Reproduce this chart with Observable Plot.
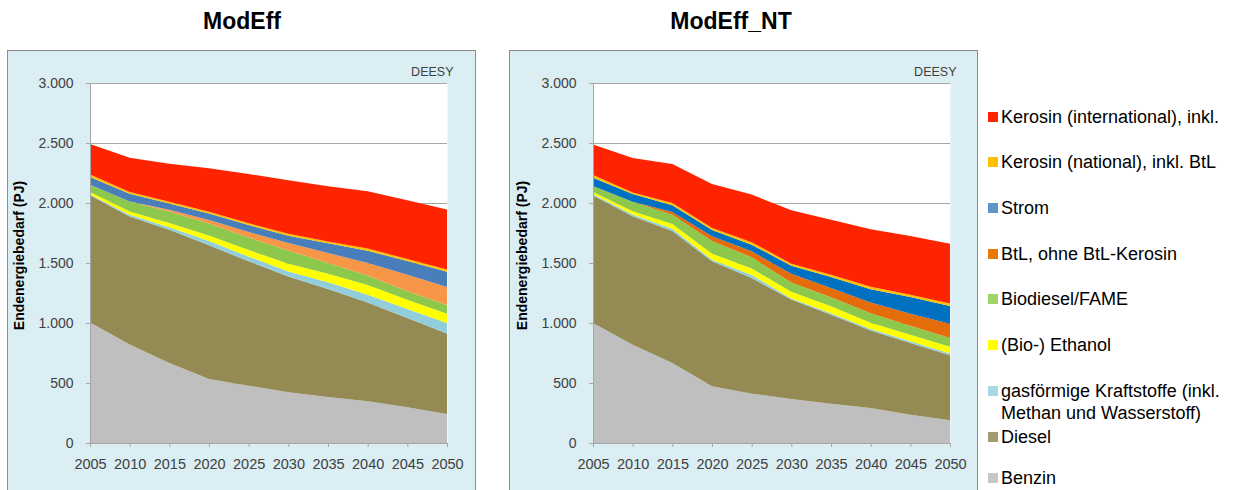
<!DOCTYPE html>
<html>
<head>
<meta charset="utf-8">
<script src="https://cdn.jsdelivr.net/npm/d3@7"></script>
<script src="https://cdn.jsdelivr.net/npm/@observablehq/plot@0.6"></script>
<style>
  html, body { margin: 0; padding: 0; background: #fff; }
  #page { position: relative; width: 1236px; height: 490px; overflow: hidden; font-family: Arial, "Liberation Sans", sans-serif; }
  .title { position: absolute; top: 8px; font-weight: bold; font-size: 23px; color: #000; text-align: center; width: 300px; }
  .panel { position: absolute; top: 50px; }
  .panel svg { display: block; border: 1px solid #8c8c8c; }
  #legend { position: absolute; left: 988px; top: 0; font-size: 18px; color: #000; }
  .item { position: absolute; left: 0; white-space: nowrap; line-height: 22px; }
  .sw { position: absolute; left: 0; top: 6px; width: 10px; height: 10px; }
  .lbl { position: absolute; left: 13px; top: 0; }
</style>
</head>
<body>
<div id="page">
  <div class="title" style="left:92px;">ModEff</div>
  <div class="title" style="left:581px;">ModEff_NT</div>
  <div class="panel" id="left" style="left:7px;"></div>
  <div class="panel" id="right" style="left:509px;"></div>
  <div id="legend"></div>
</div>
<script>
// ---- data (PJ) ----
const years = [2005, 2010, 2015, 2020, 2025, 2030, 2035, 2040, 2045, 2050];
const seriesNames = ["Benzin", "Diesel", "gasförmige Kraftstoffe", "(Bio-) Ethanol", "Biodiesel/FAME",
  "BtL, ohne BtL-Kerosin", "Strom", "Kerosin (national), inkl. BtL", "Kerosin (international), inkl."];
const yTicks = [0, 500, 1000, 1500, 2000, 2500, 3000];

// Scenario ModEff
const benzinA    = [1005, 820, 667, 533, 478, 422, 383, 347, 297, 242];
const dieselA    = [1060, 1068, 1111, 1115, 1036, 966, 900, 824, 745, 670];
const gasA       = [5, 15, 19, 36, 39, 42, 56, 65, 75, 88];
const ethanolA   = [22, 27, 36, 46, 55, 64, 72, 81, 77, 78];
const biodieselA = [60, 83, 97, 100, 105, 111, 89, 79, 70, 72];
const btlA       = [0, 0, 14, 28, 45, 62, 83, 104, 139, 150];
const stromA     = [65, 65, 52, 55, 58, 61, 82, 103, 113, 128];
const keroNatA   = [20, 13, 14, 15, 15, 16, 15, 17, 17, 17];
const keroIntA   = [255, 287, 318, 362, 411, 445, 459, 478, 490, 500];

// Scenario ModEff_NT
const benzinB    = [1000, 819, 667, 472, 411, 367, 328, 292, 236, 189];
const dieselB    = [1063, 1070, 1100, 1042, 964, 828, 741, 646, 597, 542];
const gasB       = [10, 15, 18, 14, 25, 10, 12, 13, 14, 14];
const ethanolB   = [18, 28, 40, 50, 55, 55, 58, 52, 56, 58];
const biodieselB = [50, 78, 78, 105, 92, 78, 75, 78, 75, 72];
const btlB       = [0, 0, 22, 39, 50, 73, 78, 89, 100, 119];
const stromB     = [70, 64, 57, 52, 56, 67, 91, 112, 139, 147];
const keroNatB   = [22, 14, 18, 18, 20, 16, 20, 20, 19, 21];
const keroIntB   = [255, 287, 325, 366, 397, 445, 458, 480, 490, 498];

// colours
const colorsA = ["#BFBFBF", "#948A54", "#92CDDC", "#FFFF00", "#8DC84C", "#F79646", "#4A7EBB", "#FFC000", "#FF2400"];
const colorsB = ["#BFBFBF", "#948A54", "#92CDDC", "#FFFF00", "#8DC84C", "#E46C0A", "#0070C0", "#FFC000", "#FF2400"];
const legendColors = ["#C8C8C8", "#A49C70", "#A8D8E4", "#FFFF00", "#A0D468", "#E8780C", "#6094C8", "#FFC000", "#FF2400"];

function toRows(arrays) {
  const rows = [];
  arrays.forEach((arr, si) => arr.forEach((v, i) => rows.push({year: years[i], series: seriesNames[si], value: v})));
  return rows;
}
const rowsA = toRows([benzinA, dieselA, gasA, ethanolA, biodieselA, btlA, stromA, keroNatA, keroIntA]);
const rowsB = toRows([benzinB, dieselB, gasB, ethanolB, biodieselB, btlB, stromB, keroNatB, keroIntB]);

const yFmt = d => d3.format(",")(d).replace(/,/g, ".");

function chart(rows, colors, width, marginLeft, marginRight) {
  return Plot.plot({
    width, height: 445,
    marginLeft, marginRight, marginTop: 32, marginBottom: 53,
    style: {background: "#DAEEF3", fontFamily: "Arial, 'Liberation Sans', sans-serif", fontSize: "14px", color: "#404040", overflow: "visible"},
    x: {domain: [2005, 2050]},
    y: {domain: [0, 3000]},
    color: {domain: seriesNames, range: colors},
    marks: [
      Plot.frame({fill: "white", stroke: null}),
      Plot.gridY(yTicks, {stroke: "#a6a6a6", strokeOpacity: 1}),
      Plot.areaY(rows, {x: "year", y: "value", z: "series", fill: "series", order: seriesNames, fillOpacity: 1}),
      Plot.ruleY([0], {stroke: "#a6a6a6"}),
      Plot.ruleX([2005], {stroke: "#a6a6a6"}),
      Plot.axisY({ticks: yTicks, tickFormat: yFmt, tickSize: 4, tickPadding: 13, stroke: "#a6a6a6", fill: "#404040", label: null}),
      Plot.axisX({ticks: years, tickFormat: d => String(d), tickSize: 4, tickPadding: 11, stroke: "#a6a6a6", fill: "#404040", fontSize: 14.5, label: null}),
      Plot.text(["Endenergiebedarf (PJ)"], {text: d => d, frameAnchor: "left", textAnchor: "middle", dx: -71, dy: -8, rotate: -90, fontWeight: "bold", fontSize: 14, fill: "#000"}),
      Plot.text(["DEESY"], {text: d => d, frameAnchor: "top-right", dx: 6, dy: -16, textAnchor: "end", fontSize: 12.5, fill: "#404040", style: "letter-spacing:2.6px"})
    ]
  });
}

document.getElementById("left").append(chart(rowsA, colorsA, 467, 82, 28));
document.getElementById("right").append(chart(rowsB, colorsB, 467, 83, 27));

// legend (top to bottom: reverse of stacking order)
const legendTops = {
  "Kerosin (international), inkl.": 106,
  "Kerosin (national), inkl. BtL": 151,
  "Strom": 197,
  "BtL, ohne BtL-Kerosin": 243,
  "Biodiesel/FAME": 288,
  "(Bio-) Ethanol": 334,
  "gasförmige Kraftstoffe": 380,
  "Diesel": 426,
  "Benzin": 467
};
const legendText = {
  "gasförmige Kraftstoffe": "gasförmige Kraftstoffe (inkl.<br>Methan und Wasserstoff)"
};
const legend = document.getElementById("legend");
seriesNames.slice().reverse().forEach(name => {
  const i = seriesNames.indexOf(name);
  const div = document.createElement("div");
  div.className = "item";
  div.style.top = legendTops[name] + "px";
  div.innerHTML = `<span class="sw" style="background:${legendColors[i]}"></span><span class="lbl">${legendText[name] || name}</span>`;
  legend.append(div);
});
</script>
</body>
</html>
